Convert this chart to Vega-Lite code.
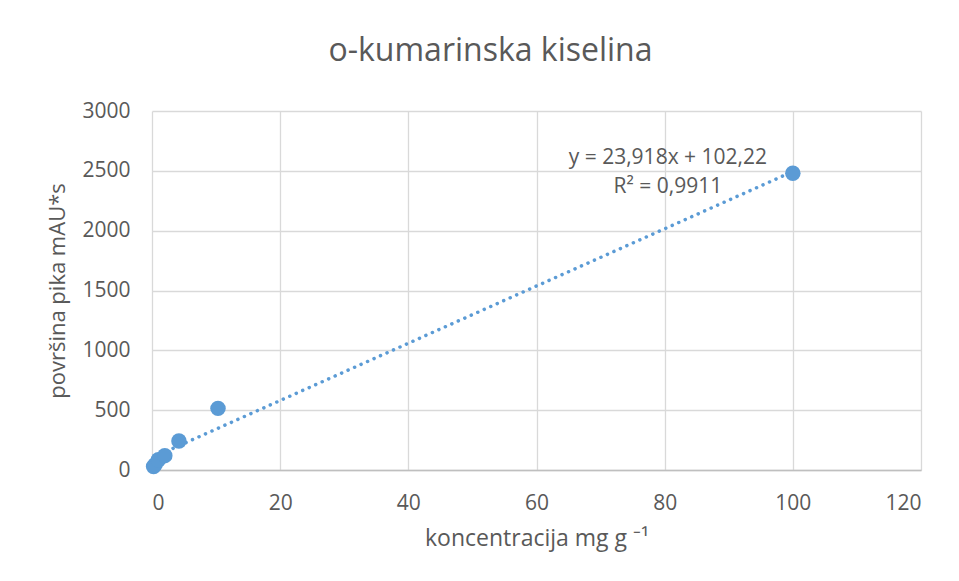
{
  "$schema": "https://vega.github.io/schema/vega-lite/v6.json",
  "autosize": "none",
  "width": 769,
  "height": 359,
  "padding": {"left": 152, "top": 111, "right": 38, "bottom": 111},
  "background": "white",
  "title": {
    "text": "o-kumarinska kiselina",
    "fontSize": 32,
    "font": "Open Sans",
    "fontWeight": "normal",
    "color": "#595959",
    "anchor": "middle",
    "frame": "group",
    "dx": -46,
    "offset": 32
  },
  "datasets": {
    "points": [
      {"konc": 0.25, "povrsina": 30},
      {"konc": 0.5, "povrsina": 45},
      {"konc": 1, "povrsina": 85},
      {"konc": 2, "povrsina": 120},
      {"konc": 4.2, "povrsina": 242},
      {"konc": 10.3, "povrsina": 515},
      {"konc": 100, "povrsina": 2480}
    ],
    "trend": [
      {"konc": 0.25, "povrsina": 108.2},
      {"konc": 100, "povrsina": 2494.0}
    ]
  },
  "config": {
    "view": {"stroke": null},
    "axis": {
      "labelFont": "Open Sans",
      "titleFont": "Open Sans",
      "labelColor": "#595959",
      "titleColor": "#595959",
      "labelFontSize": 21,
      "titleFontSize": 22,
      "titleFontWeight": "normal",
      "gridColor": "#d9d9d9",
      "gridWidth": 1.3,
      "ticks": false,
      "domain": false
    }
  },
  "layer": [
    {
      "data": {"name": "trend"},
      "mark": {"type": "line", "color": "#5b9bd5", "strokeWidth": 3.5, "strokeDash": [0.1, 7], "strokeCap": "round"},
      "encoding": {
        "x": {"field": "konc", "type": "quantitative"},
        "y": {"field": "povrsina", "type": "quantitative"}
      }
    },
    {
      "data": {"name": "points"},
      "mark": {"type": "point", "filled": true, "opacity": 1, "size": 240, "color": "#5b9bd5"},
      "encoding": {
        "x": {
          "field": "konc", "type": "quantitative",
          "scale": {"domain": [0, 120], "nice": false},
          "axis": {"values": [0, 20, 40, 60, 80, 100, 120], "format": "d", "title": "koncentracija mg g ⁻¹", "titleFontSize": 23, "labelPadding": 22, "titlePadding": 14,
                   "domain": true, "domainColor": "#bfbfbf", "domainWidth": 1.3}
        },
        "y": {
          "field": "povrsina", "type": "quantitative",
          "scale": {"domain": [0, 3000], "nice": false},
          "axis": {"values": [0, 500, 1000, 1500, 2000, 2500, 3000], "format": "d", "title": "površina pika mAU*s", "labelPadding": 22, "titlePadding": 12}
        }
      }
    },
    {
      "data": {"values": [{}]},
      "mark": {"type": "text", "font": "Open Sans", "fontSize": 21, "color": "#595959", "align": "center", "baseline": "middle", "lineHeight": 29},
      "encoding": {
        "x": {"datum": 80.5, "type": "quantitative"},
        "y": {"datum": 2606, "type": "quantitative"},
        "text": {"value": ["y = 23,918x + 102,22", "R² = 0,9911"]}
      }
    }
  ]
}
